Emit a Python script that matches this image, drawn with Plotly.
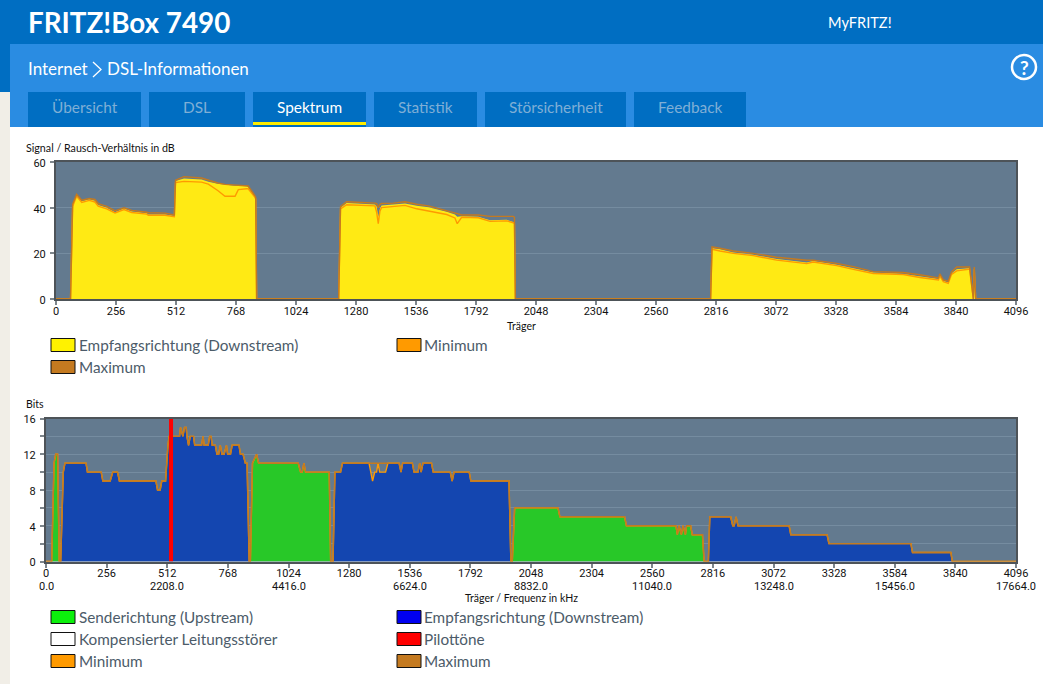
import plotly.graph_objects as go

W, H = 1043, 684
FONT = "Lato"
TICK_FONT = "Roboto"

# ---------- Chart 1: signal / noise ratio ----------
snr_x = [0, 62, 71, 88, 110, 142, 166, 180, 216, 252, 290, 323, 387, 394, 465, 500, 505, 510, 546, 621, 650, 690, 721, 764, 778, 813, 820, 849, 852, 856,
         1206, 1214, 1240, 1361, 1368, 1375, 1382, 1389, 1440, 1489, 1539, 1589, 1667, 1702, 1712, 1731, 1802, 1852, 1923, 1951, 1956, 1960,
         2793, 2799, 2833, 2890, 2975, 3075, 3203, 3231, 3331, 3402, 3487, 3615, 3686, 3765, 3771, 3786, 3807, 3821, 3843, 3893, 3898, 3914, 3918, 3924, 4096]
snr_cur = [0, 0, 41, 45.4, 42.8, 43.7, 43, 41.2, 40, 38, 39.6, 38.3, 37.6, 37, 37, 36.3, 36.3, 51.7, 52.8, 52.3, 51.4, 50.5, 50, 49.6, 49.6, 49.4, 49, 44.7, 44, 0,
           0, 40, 42, 41.4, 40.5, 36, 39.5, 41, 41.4, 41.8, 40.8, 40.2, 38.2, 37, 36, 36.2, 36, 34.5, 34.7, 33.8, 33.5, 0,
           0, 22.2, 21.8, 20.4, 19.4, 17.5, 16, 16.6, 15, 13.5, 11.6, 11, 9.8, 8.8, 10.5, 8, 7.2, 11.2, 13, 13.7, 13.5, 0, 13.5, 0, 0]
snr_min = [0, 0, 40.5, 45, 42.3, 43.2, 42.5, 40.7, 39.5, 37.7, 39.2, 37.9, 37.2, 36.7, 36.7, 36, 36, 51, 51.5, 51.2, 50.3, 47.5, 45, 45, 47.9, 48.3, 48.3, 44.5, 43.8, 0,
           0, 39.5, 41.3, 40.8, 38, 33, 38.5, 40, 40.5, 41, 39.5, 38.5, 37, 35.5, 33, 35.8, 35.6, 34, 34.2, 33.4, 33, 0,
           0, 21.8, 21, 20, 19, 17, 15.5, 16.2, 14.6, 13, 11.2, 10.7, 9.4, 8.3, 10, 7.6, 6.8, 10.8, 12.3, 13, 13, 0, 13, 0, 0]
snr_max = [0, 0, 41.5, 45.8, 43.3, 44, 43.6, 41.8, 40.6, 38.6, 40, 38.8, 38, 37.8, 37.6, 36.8, 36.8, 52, 53.6, 53, 52, 50.8, 50.2, 50, 50, 49.8, 49.5, 45.2, 44.5, 0,
           0, 40.5, 42.6, 42, 41.8, 40, 41.5, 41.8, 42, 42.6, 41.5, 40.8, 38.8, 37.8, 37.4, 36.8, 36.8, 36.2, 36.2, 36.2, 35.8, 0,
           0, 22.8, 22.2, 21, 20, 18.3, 17, 17, 15.6, 14.2, 12, 11.6, 10.6, 9.2, 11, 8.4, 7.8, 11.8, 14, 14.2, 14, 0, 14, 0, 0]
snr_ticks = [0, 256, 512, 768, 1024, 1280, 1536, 1792, 2048, 2304, 2560, 2816, 3072, 3328, 3584, 3840, 4096]
snr_yticks = [0, 20, 40, 60]

# ---------- Chart 2: bits per carrier ----------
up1_x = [24, 34, 41, 49, 56]
up1_y = [0, 11, 12, 12, 0]
dn1_x = [62, 73, 80, 169, 175, 233, 240, 271, 282, 302, 310, 464, 471, 482, 489, 505, 515, 520, 564, 568, 578, 585, 592, 595, 602, 609, 623, 628,
         657, 663, 668, 685, 691, 697, 702, 715, 722, 729, 736, 743, 752, 762, 767, 779, 786, 815, 821, 832, 842, 849, 858]
dn1_y = [0, 10, 11, 11, 10, 10, 9, 9, 10, 10, 9, 9, 8, 8, 9, 9, 13, 14, 14, 15, 14, 15, 15, 14, 13, 14, 14, 13,
         13, 14, 13, 13, 14, 14, 13, 13, 12, 12, 13, 12, 12, 13, 12, 12, 13, 13, 12, 12, 11, 11, 0]
up2_x = [863, 872, 889, 898, 1065, 1075, 1082, 1089, 1096, 1196, 1202]
up2_y = [0, 11, 12, 11, 11, 10, 10, 11, 10, 10, 0]
dn2_x = [1212, 1220, 1244, 1252, 1364, 1371, 1379, 1388, 1396, 1402, 1409, 1434, 1444, 1491, 1499, 1506, 1547, 1554, 1571, 1578, 1584, 1592, 1628, 1635,
         1707, 1715, 1723, 1787, 1794, 1955, 1963]
dn2_y = [0, 10, 10, 11, 11, 10, 9, 10, 10, 11, 10, 10, 11, 11, 10, 11, 11, 10, 10, 11, 10, 11, 11, 10,
         10, 9, 10, 10, 9, 9, 0]
dn2_max = [0, 10, 10, 11, 11, 11, 11, 11, 11, 11, 11, 11, 11, 11, 10, 11, 11, 10, 10, 11, 10, 11, 11, 10,
           10, 9, 10, 10, 9, 9, 0]
up3_x = [1969, 1979, 2162, 2170, 2443, 2451, 2660, 2666, 2673, 2683, 2690, 2700, 2705, 2722, 2729, 2772, 2779]
up3_y = [0, 6, 6, 5, 5, 4, 4, 3, 4, 3, 4, 3, 4, 4, 3, 3, 0]
dn3_x = [2797, 2803, 2891, 2900, 2906, 2914, 2922, 3138, 3145, 3298, 3306, 3652, 3659, 3821, 3827]
dn3_y = [0, 5, 5, 4, 4, 5, 4, 4, 3, 3, 2, 2, 1, 1, 0]
pilot_x = [528, 528]
pilot_y = [0, 16]
bit_xticks = [0, 256, 512, 768, 1024, 1280, 1536, 1792, 2048, 2304, 2560, 2816, 3072, 3328, 3584, 3840, 4096]
khz_ticks = [0, 512, 1024, 1536, 2048, 2560, 3072, 3584, 4096]
bit_khz = ["0.0", "2208.0", "4416.0", "6624.0", "8832.0", "11040.0", "13248.0", "15456.0", "17664.0"]
bit_yticks = [0, 2, 4, 6, 8, 10, 12, 14, 16]
bit_ylabels = ["0", "", "4", "", "8", "", "12", "", "16"]

# ---------- Text and colours ----------
legend_top = [("Empfangsrichtung (Downstream)", "#FFF200"), ("Minimum", "#FF9A00"), ("Maximum", "#C47A20")]
legend_bottom = [("Senderichtung (Upstream)", "#0CF00C"), ("Empfangsrichtung (Downstream)", "#0000F0"),
                 ("Kompensierter Leitungsstörer", "#FFFFFF"), ("Pilottöne", "#FF0000"),
                 ("Minimum", "#FF9A00"), ("Maximum", "#C47A20")]
tabs = [("Übersicht", 28, 141), ("DSL", 149, 245), ("Spektrum", 253, 366),
        ("Statistik", 374, 477), ("Störsicherheit", 485, 626), ("Feedback", 634, 746)]
DARK_BLUE, LIGHT_BLUE = "#006EC2", "#2A8CE2"
PLOT_BG, GRID = "#637A8F", "#758CA0"
C_YELLOW, C_MIN, C_MAX = "#FFEA14", "#FF9A00", "#C47A20"
C_GREEN, C_BLUE = "#28C828", "#1446B0"
TEXT = "#4C5B69"


def fx(p):
    return p / W


def fy(p):
    return 1 - p / H


fig = go.Figure()


def fill(x, y, color, xa, ya):
    fig.add_trace(go.Scatter(x=x, y=y, mode="lines", line=dict(width=0, color=color), fill="tozeroy",
                             fillcolor=color, xaxis=xa, yaxis=ya, hoverinfo="skip"))


def line(x, y, color, xa, ya, width=1.4):
    fig.add_trace(go.Scatter(x=x, y=y, mode="lines", line=dict(width=width, color=color),
                             xaxis=xa, yaxis=ya, cliponaxis=False, hoverinfo="skip"))


# chart 1
fill(snr_x, snr_cur, C_YELLOW, "x", "y")
line(snr_x, snr_min, C_MIN, "x", "y")
line(snr_x, snr_max, C_MAX, "x", "y")

# chart 2
for sx, sy, c in [(up1_x, up1_y, C_GREEN), (dn1_x, dn1_y, C_BLUE), (up2_x, up2_y, C_GREEN),
                  (dn2_x, dn2_y, C_BLUE), (up3_x, up3_y, C_GREEN), (dn3_x, dn3_y, C_BLUE)]:
    fill(sx, sy, c, "x2", "y2")
min_x = [0] + up1_x + dn1_x + up2_x + dn2_x + up3_x + dn3_x + [4096]
min_y = [0] + up1_y + dn1_y + up2_y + dn2_y + up3_y + dn3_y + [0]
max_y = [0] + up1_y + dn1_y + up2_y + dn2_max + up3_y + dn3_y + [0]
line(min_x, min_y, C_MIN, "x2", "y2")
line(min_x, max_y, C_MAX, "x2", "y2")
fig.add_trace(go.Scatter(x=pilot_x, y=pilot_y, mode="lines", line=dict(width=4, color="#FF0000"),
                         xaxis="x2", yaxis="y2", hoverinfo="skip"))

axis_common = dict(showline=True, linecolor="#4D5358", linewidth=2, mirror=True, ticks="outside", ticklen=4,
                   tickwidth=2, tickcolor="#7D858B", zeroline=False, automargin=False,
                   tickfont=dict(family=TICK_FONT, size=11, color="#111111"))

shapes = []


def rect(x0, y0, x1, y1, color, border=None):
    shapes.append(dict(type="rect", xref="paper", yref="paper", x0=fx(x0), x1=fx(x1), y0=fy(y0), y1=fy(y1),
                       fillcolor=color, layer="below",
                       line=dict(width=1 if border else 0, color=border or color)))


annotations = []


def label(x, y, text, size, color, anchor="left", bold=False, family=FONT):
    annotations.append(dict(xref="paper", yref="paper", x=fx(x), y=fy(y), text=f"<b>{text}</b>" if bold else text,
                            showarrow=False, xanchor=anchor, yanchor="middle",
                            font=dict(family=family, size=size, color=color), borderpad=0, borderwidth=0))


# page chrome
rect(0, 0, W, 44, DARK_BLUE)
rect(0, 44, 10, 92, DARK_BLUE)
rect(0, 92, 10, H, "#F1EEE7")
rect(10, 44, W, 127, LIGHT_BLUE)
for name, x0, x1 in tabs:
    rect(x0, 92, x1, 127, DARK_BLUE)
    active = name == "Spektrum"
    label((x0 + x1) / 2, 107, name, 15.4, "#FFFFFF" if active else "#7FAFD6", "center")
    if active:
        rect(x0, 122, x1, 125, "#FFED00")
label(28, 22, "FRITZ!Box 7490", 27.8, "#FFFFFF", bold=True)
label(828, 23, "MyFRITZ!", 14.6, "#FFFFFF")
label(28, 69, "Internet", 17, "#FFFFFF")
label(107, 69, "DSL-Informationen", 17, "#FFFFFF")
shapes.append(dict(type="path", xref="paper", yref="paper", layer="above",
                   path=f"M {fx(93)} {fy(62)} L {fx(101)} {fy(69.5)} L {fx(93)} {fy(77)}",
                   line=dict(color="#FFFFFF", width=1.3)))
shapes.append(dict(type="circle", xref="paper", yref="paper", layer="above",
                   x0=fx(1012), x1=fx(1036), y0=fy(79), y1=fy(55), line=dict(color="#FFFFFF", width=2.5)))
label(1024, 67, "?", 19, "#FFFFFF", "center", bold=True)

# axis captions
label(26, 148, "Signal / Rausch-Verhältnis in dB", 10.7, "#111111")
label(521, 326, "Träger", 10.5, "#111111", "center")
label(26, 404, "Bits", 10.5, "#111111")
label(521, 598, "Träger / Frequenz in kHz", 10.5, "#111111", "center")

# legends
columns = [(51, 79), (397, 424)]
for i, (name, color) in enumerate(legend_top):
    sx, tx = columns[i % 2]
    y = 345 + 22 * (i // 2)
    rect(sx, y - 6.5, sx + 24, y + 6.5, color, "#111111")
    label(tx, y, name, 15.3, TEXT)
for i, (name, color) in enumerate(legend_bottom):
    sx, tx = columns[i % 2]
    y = 617 + 22 * (i // 2)
    rect(sx, y - 6.5, sx + 24, y + 6.5, color, "#111111")
    label(tx, y, name, 15.3, TEXT)

# second tick line of chart 2 (kHz)
for t, k in zip(khz_ticks, bit_khz):
    annotations.append(dict(xref="x2", yref="paper", x=t, y=fy(586), text=k, showarrow=False,
                            xanchor="center", yanchor="middle", borderpad=0,
                            font=dict(family=TICK_FONT, size=11, color="#111111")))

fig.update_layout(
    template="none",
    width=W, height=H, margin=dict(l=0, r=0, t=0, b=0, pad=0), paper_bgcolor="#FFFFFF", plot_bgcolor=PLOT_BG,
    showlegend=False, shapes=shapes, annotations=annotations,
    xaxis=dict(domain=[fx(56), fx(1016)], range=[0, 4096], tickvals=snr_ticks, showgrid=False, anchor="y",
               ticklabelstandoff=-3, **axis_common),
    yaxis=dict(domain=[fy(299), fy(162)], range=[0, 60], tickvals=snr_yticks, showgrid=True, gridcolor=GRID, gridwidth=1,
               anchor="x", ticklabelstandoff=2, ticklabelshift=1, **axis_common),
    xaxis2=dict(domain=[fx(46), fx(1016)], range=[0, 4096], tickvals=bit_xticks, showgrid=False, anchor="y2",
                ticklabelstandoff=-4, **axis_common),
    yaxis2=dict(domain=[fy(561.5), fy(418.5)], range=[0, 16], tickvals=bit_yticks, ticktext=bit_ylabels, showgrid=True,
                gridcolor=GRID, gridwidth=1, anchor="x2", ticklabelstandoff=2, ticklabelshift=1, **axis_common),
)

fig.write_html("out.html", config={"displayModeBar": False},
               post_script="document.body.style.margin='0';")
